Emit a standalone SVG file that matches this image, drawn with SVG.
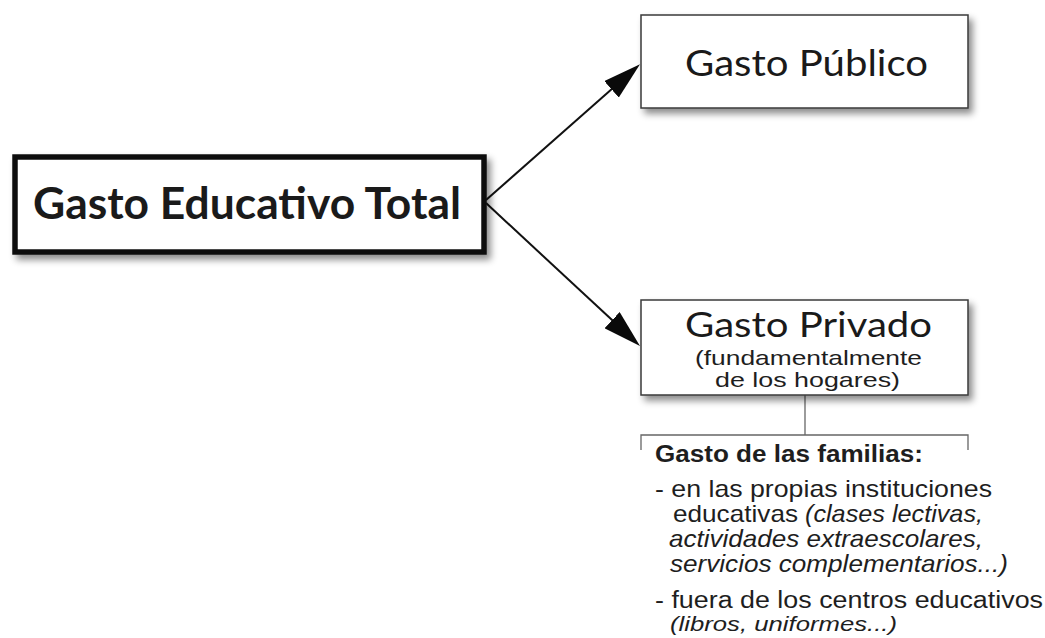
<svg xmlns="http://www.w3.org/2000/svg" width="1045" height="638" viewBox="0 0 1045 638">
<style>
.cal{font-family:Lato,"Open Sans","Liberation Sans",sans-serif;fill:#1a1a1a}
.ar{font-family:"Liberation Sans",Arial,sans-serif;fill:#1e1e1e}
.it{font-style:italic}
.thin{fill:#fff;stroke:#3a3a3a;stroke-width:1.5}
.conn{stroke:#111;stroke-width:2;fill:none}
.brk{stroke:#666;stroke-width:1.3;fill:none}
</style>
<defs>
<filter id="sh" x="-10%" y="-20%" width="125%" height="150%">
<feDropShadow dx="4" dy="5" stdDeviation="3.5" flood-color="#000" flood-opacity="0.45"/>
</filter>
<marker id="ah" viewBox="0 0 38 22" refX="8" refY="11" markerWidth="38" markerHeight="22" markerUnits="userSpaceOnUse" orient="auto">
<path d="M0,0 L38,11 L0,22 z" fill="#0a0a0a"/>
</marker>
</defs>
<rect width="1045" height="638" fill="#fff"/>
<g id="connectors">
<line class="conn" x1="486" y1="200" x2="617.5" y2="84" marker-end="url(#ah)"/>
<line class="conn" x1="486" y1="203" x2="618" y2="325.6" marker-end="url(#ah)"/>
<line class="brk" x1="805" y1="395" x2="805" y2="435"/>
<path class="brk" d="M641,450 V435 H968 V450"/>
</g>
<g id="total">
<rect x="15" y="157" width="469" height="95" fill="#fff" stroke="#111" stroke-width="5.5" filter="url(#sh)"/>
<text class="cal" x="33" y="219" font-size="44" font-weight="bold" textLength="428" lengthAdjust="spacingAndGlyphs">Gasto Educativo Total</text>
</g>
<g id="publico">
<rect class="thin" x="641" y="15" width="327" height="93" filter="url(#sh)"/>
<text class="cal" x="685" y="76" font-size="36" textLength="243" lengthAdjust="spacingAndGlyphs">Gasto Público</text>
</g>
<g id="privado">
<rect class="thin" x="641" y="300" width="327" height="95" filter="url(#sh)"/>
<text class="cal" x="685" y="337" font-size="35" textLength="247" lengthAdjust="spacingAndGlyphs">Gasto Privado</text>
<text class="ar" x="695" y="365" font-size="21" textLength="227" lengthAdjust="spacingAndGlyphs">(fundamentalmente</text>
<text class="ar" x="715" y="387" font-size="21" textLength="185" lengthAdjust="spacingAndGlyphs">de los hogares)</text>
</g>
<g id="familias">
<text class="ar" x="655" y="462" font-size="23" font-weight="bold" textLength="268" lengthAdjust="spacingAndGlyphs">Gasto de las familias:</text>
<text class="ar" x="655" y="497" font-size="24" textLength="337" lengthAdjust="spacingAndGlyphs">- en las propias instituciones</text>
<text class="ar" x="673" y="522" font-size="24" textLength="125" lengthAdjust="spacingAndGlyphs">educativas</text>
<text class="ar it" x="805" y="522" font-size="24" textLength="178" lengthAdjust="spacingAndGlyphs">(clases lectivas,</text>
<text class="ar it" x="669" y="547" font-size="24" textLength="314" lengthAdjust="spacingAndGlyphs">actividades extraescolares,</text>
<text class="ar it" x="670" y="572" font-size="24" textLength="338" lengthAdjust="spacingAndGlyphs">servicios complementarios...)</text>
<text class="ar" x="655" y="608" font-size="23" textLength="388" lengthAdjust="spacingAndGlyphs">- fuera de los centros educativos</text>
<text class="ar it" x="670" y="631" font-size="21" textLength="227" lengthAdjust="spacingAndGlyphs">(libros, uniformes...)</text>
</g>
</svg>
